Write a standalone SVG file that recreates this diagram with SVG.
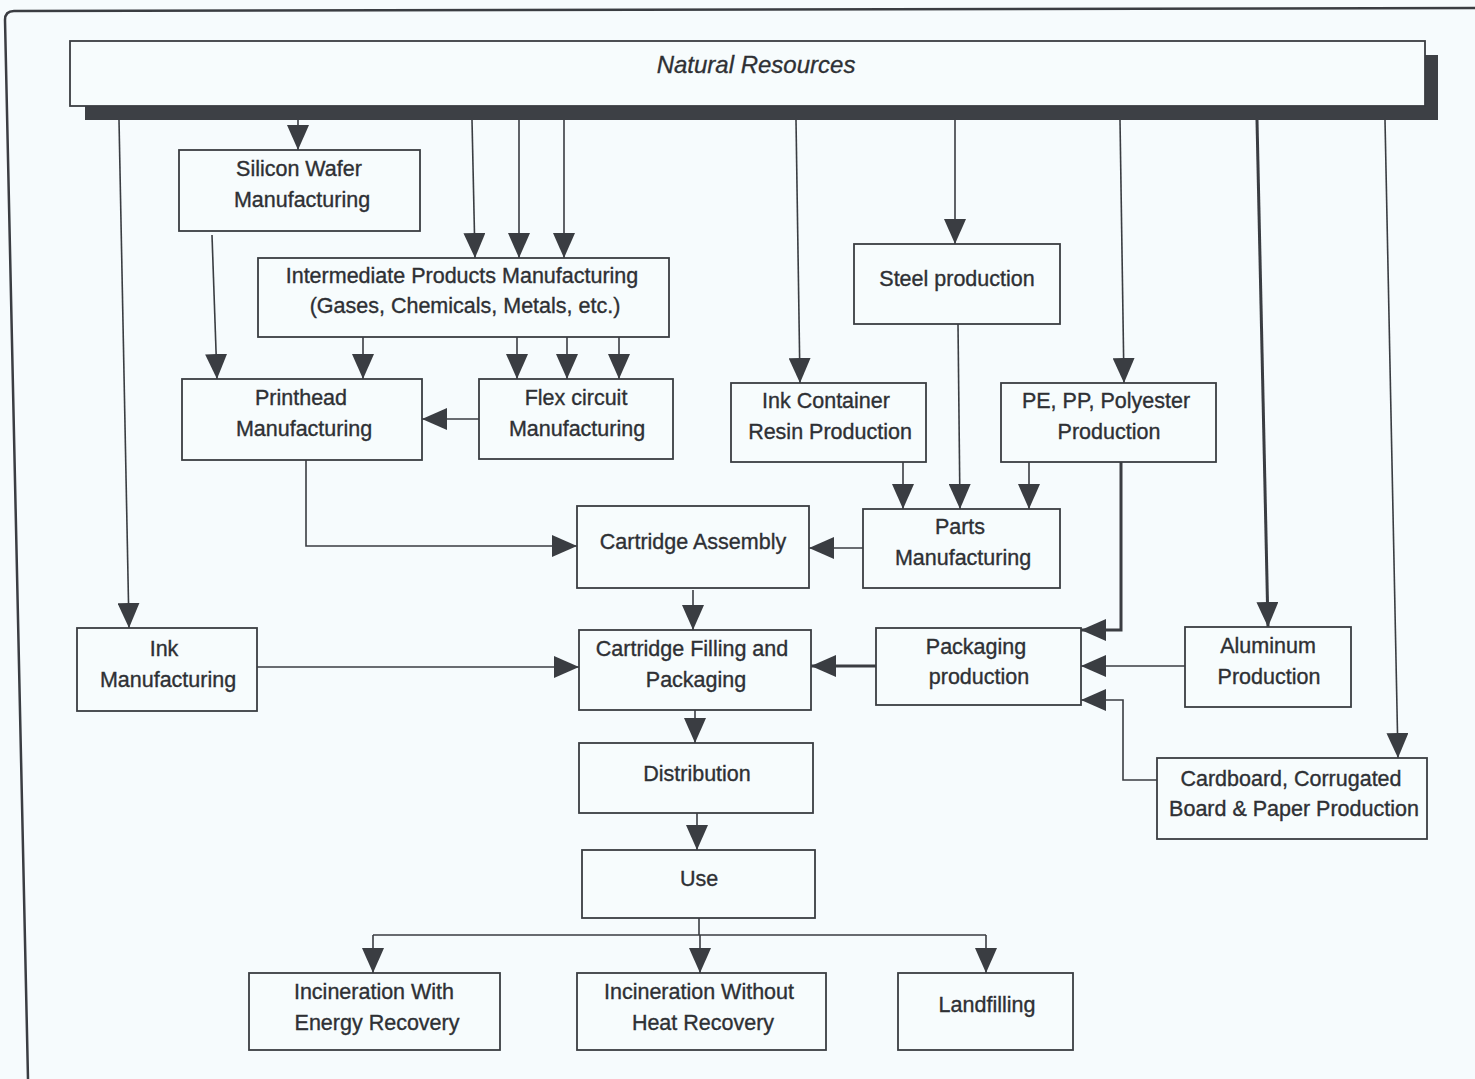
<svg xmlns="http://www.w3.org/2000/svg" width="1475" height="1079" viewBox="0 0 1475 1079">
<style>
.bg{fill:#f6fbfd}
.box{fill:#f7fcfd;stroke:#3a3d42;stroke-width:1.8}
.t{font-family:"Liberation Sans",Arial,sans-serif;font-size:21.5px;fill:#2e3034;text-anchor:middle;stroke:#2e3034;stroke-width:0.35}
.ti{font-family:"Liberation Sans",Arial,sans-serif;font-size:24px;font-style:italic;fill:#2e3034;text-anchor:middle;stroke:#2e3034;stroke-width:0.3}
.ln{fill:none;stroke:#3a3d42;stroke-width:1.6;marker-end:url(#ah)}
.lt{fill:none;stroke:#3a3d42;stroke-width:3;marker-end:url(#ah)}
.lp{fill:none;stroke:#3a3d42;stroke-width:1.6}
.sh{fill:#3d4045}
</style>
<defs>
<marker id="ah" viewBox="0 0 25 22" refX="25" refY="11" markerWidth="25" markerHeight="22" markerUnits="userSpaceOnUse" orient="auto">
<path d="M0,0 L25,11 L0,22 Z" fill="#3a3d42"/>
</marker>
</defs>
<rect class="bg" x="0" y="0" width="1475" height="1079"/>
<path d="M1475,8 L14,11 Q5,11 5,20 L28,1079" fill="none" stroke="#3a3d42" stroke-width="2.5"/>

<g id="natural-resources">
<rect class="sh" x="85" y="106" width="1353" height="14"/>
<rect class="sh" x="1425" y="55" width="13" height="65"/>
<rect class="box" x="70" y="41" width="1355" height="65"/>
<text class="ti" x="756" y="73">Natural Resources</text>
</g>

<g id="connectors">
<path class="ln" d="M119,120 L129,628"/>
<path class="ln" d="M298,120 V150"/>
<path class="ln" d="M472,120 L475,258"/>
<path class="ln" d="M519,120 V258"/>
<path class="ln" d="M564,120 V258"/>
<path class="ln" d="M796,120 L800,383"/>
<path class="ln" d="M955,120 V244"/>
<path class="ln" d="M1120,120 L1124,383"/>
<path class="lt" d="M1257,120 L1268,627"/>
<path class="ln" d="M1385,120 L1398,758"/>
<path class="ln" d="M212,235 L217,379"/>
<path class="ln" d="M363,337 V379"/>
<path class="ln" d="M517,337 V379"/>
<path class="ln" d="M567,337 V379"/>
<path class="ln" d="M619,337 V379"/>
<path class="ln" d="M479,419 H422"/>
<path class="ln" d="M306,460 V546 H577"/>
<path class="ln" d="M958,324 L960,509"/>
<path class="ln" d="M903,462 V509"/>
<path class="ln" d="M1029,462 V509"/>
<path class="ln" d="M863,548 H809"/>
<path class="ln" d="M693,590 V630"/>
<path class="ln" d="M257,667 H579"/>
<path class="lt" d="M876,666 H811"/>
<path class="lt" d="M1121,462 V630 H1081"/>
<path class="ln" d="M1185,666 H1081"/>
<path class="ln" d="M1157,780 H1123 V700 H1081"/>
<path class="ln" d="M695,710 V743"/>
<path class="ln" d="M697,813 V850"/>
<path class="lp" d="M699,918 V935 M373,935 H986"/>
<path class="ln" d="M373,935 V973"/>
<path class="ln" d="M700,935 V973"/>
<path class="ln" d="M986,935 V973"/>
</g>

<g id="silicon-wafer">
<rect class="box" x="179" y="150" width="241" height="81"/>
<text class="t" x="299" y="176">Silicon Wafer</text>
<text class="t" x="302" y="207">Manufacturing</text>
</g>
<g id="intermediate-products">
<rect class="box" x="258" y="258" width="411" height="79"/>
<text class="t" x="462" y="283">Intermediate Products Manufacturing</text>
<text class="t" x="465" y="313">(Gases, Chemicals, Metals, etc.)</text>
</g>
<g id="steel">
<rect class="box" x="854" y="244" width="206" height="80"/>
<text class="t" x="957" y="286">Steel production</text>
</g>
<g id="printhead">
<rect class="box" x="182" y="379" width="240" height="81"/>
<text class="t" x="301" y="405">Printhead</text>
<text class="t" x="304" y="436">Manufacturing</text>
</g>
<g id="flex-circuit">
<rect class="box" x="479" y="379" width="194" height="80"/>
<text class="t" x="576" y="405">Flex circuit</text>
<text class="t" x="577" y="436">Manufacturing</text>
</g>
<g id="ink-container">
<rect class="box" x="731" y="383" width="195" height="79"/>
<text class="t" x="826" y="408">Ink Container</text>
<text class="t" x="830" y="439">Resin Production</text>
</g>
<g id="pe-pp">
<rect class="box" x="1001" y="383" width="215" height="79"/>
<text class="t" x="1106" y="408">PE, PP, Polyester</text>
<text class="t" x="1109" y="439">Production</text>
</g>
<g id="cartridge-assembly">
<rect class="box" x="577" y="506" width="232" height="82"/>
<text class="t" x="693" y="549">Cartridge Assembly</text>
</g>
<g id="parts">
<rect class="box" x="863" y="509" width="197" height="79"/>
<text class="t" x="960" y="534">Parts</text>
<text class="t" x="963" y="565">Manufacturing</text>
</g>
<g id="ink-manufacturing">
<rect class="box" x="77" y="628" width="180" height="83"/>
<text class="t" x="164" y="656">Ink</text>
<text class="t" x="168" y="687">Manufacturing</text>
</g>
<g id="cartridge-filling">
<rect class="box" x="579" y="630" width="232" height="80"/>
<text class="t" x="692" y="656">Cartridge Filling and</text>
<text class="t" x="696" y="687">Packaging</text>
</g>
<g id="packaging-production">
<rect class="box" x="876" y="628" width="205" height="77"/>
<text class="t" x="976" y="654">Packaging</text>
<text class="t" x="979" y="684">production</text>
</g>
<g id="aluminum">
<rect class="box" x="1185" y="627" width="166" height="80"/>
<text class="t" x="1268" y="653">Aluminum</text>
<text class="t" x="1269" y="684">Production</text>
</g>
<g id="cardboard">
<rect class="box" x="1157" y="758" width="270" height="81"/>
<text class="t" x="1291" y="786">Cardboard, Corrugated</text>
<text class="t" x="1294" y="816">Board &amp; Paper Production</text>
</g>
<g id="distribution">
<rect class="box" x="579" y="743" width="234" height="70"/>
<text class="t" x="697" y="781">Distribution</text>
</g>
<g id="use">
<rect class="box" x="582" y="850" width="233" height="68"/>
<text class="t" x="699" y="886">Use</text>
</g>
<g id="incineration-energy">
<rect class="box" x="249" y="973" width="251" height="77"/>
<text class="t" x="374" y="999">Incineration With</text>
<text class="t" x="377" y="1030">Energy Recovery</text>
</g>
<g id="incineration-no-heat">
<rect class="box" x="577" y="973" width="249" height="77"/>
<text class="t" x="699" y="999">Incineration Without</text>
<text class="t" x="703" y="1030">Heat Recovery</text>
</g>
<g id="landfilling">
<rect class="box" x="898" y="973" width="175" height="77"/>
<text class="t" x="987" y="1012">Landfilling</text>
</g>
</svg>
